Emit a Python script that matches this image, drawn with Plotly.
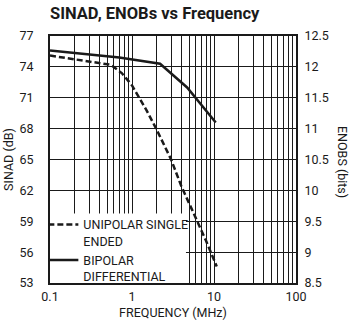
import plotly.graph_objects as go

# Frequency sweep (MHz) and measured SINAD (dB)
freq_unipolar = [0.1, 0.55, 0.75, 1.0, 1.5, 2.0, 3.0, 4.0, 5.0, 6.0, 8.0, 10.8]
sinad_unipolar = [75.1, 74.2, 73.4, 72.2, 69.8, 67.9, 65.0, 62.4, 60.7, 59.3, 57.1, 54.6]

freq_bipolar = [0.1, 0.7, 2.2, 4.7, 10.5]
sinad_bipolar = [75.6, 74.9, 74.3, 72.0, 68.6]

x_tickvals = [0.1, 0.2, 0.3, 0.4, 0.5, 0.6, 0.7, 0.8, 0.9,
              1, 2, 3, 4, 5, 6, 7, 8, 9,
              10, 20, 30, 40, 50, 60, 70, 80, 90, 100]
x_ticktext = ["0.1"] + [""] * 8 + ["1"] + [""] * 8 + ["10"] + [""] * 8 + ["100"]
sinad_ticks = [53, 56, 59, 62, 65, 68, 71, 74, 77]
enob_ticks = [8.5, 9, 9.5, 10, 10.5, 11, 11.5, 12, 12.5]
enob_labels = ["8.5", "9", "9.5", "10", "10.5", "11", "11.5", "12", "12.5"]

FONT = "Roboto, Liberation Sans, sans-serif"
INK = "#1a1a1a"

fig = go.Figure()
fig.add_trace(go.Scatter(
    x=freq_unipolar, y=sinad_unipolar, mode="lines",
    name="UNIPOLAR SINGLE<br>ENDED",
    line=dict(color=INK, width=2.5, dash="6px,3px"),
))
fig.add_trace(go.Scatter(
    x=freq_bipolar, y=sinad_bipolar, mode="lines",
    name="BIPOLAR<br>DIFFERENTIAL",
    line=dict(color=INK, width=2.5),
))
# secondary axis carrying the ENOB scale
fig.add_trace(go.Scatter(x=[0.1], y=[8.5], yaxis="y2", mode="markers",
                         marker=dict(opacity=0), showlegend=False, hoverinfo="skip"))

# blank area behind the legend, above the grid
fig.add_shape(type="rect", xref="x", yref="y", x0=0.1, x1=4.55, y0=53, y1=59.75,
              fillcolor="white", line=dict(width=0), layer="between")

fig.update_layout(
    width=355, height=326,
    margin=dict(l=50, r=59, t=36, b=43, autoexpand=False),
    paper_bgcolor="white", plot_bgcolor="white",
    font=dict(family=FONT, size=12.5, color=INK),
    title=dict(text="<b>SINAD, ENOBs vs Frequency</b>", x=50 / 355, xanchor="left",
               xref="container", y=1 - 13.5 / 326, yanchor="middle", yref="container",
               font=dict(family=FONT, size=16.5, color=INK)),
    showlegend=True,
    legend=dict(x=-0.027, y=-0.032, xanchor="left", yanchor="bottom", valign="top",
                bgcolor="rgba(0,0,0,0)", font=dict(family=FONT, size=12.5),
                tracegroupgap=4, itemwidth=30),
    xaxis=dict(type="log", range=[-1, 2], tickvals=x_tickvals, ticktext=x_ticktext,
               showgrid=True, gridcolor=INK, gridwidth=1, automargin=False,
               showline=True, linecolor=INK, linewidth=2, mirror=True,
               ticks="outside", ticklen=1, tickcolor="rgba(0,0,0,0)",
               title=dict(text="FREQUENCY (MHz)", standoff=5,
                          font=dict(family=FONT, size=12.5)),
               zeroline=False),
    yaxis=dict(range=[53, 77], tickvals=sinad_ticks, automargin=False,
               showgrid=True, gridcolor=INK, gridwidth=1,
               showline=True, linecolor=INK, linewidth=2, mirror=True,
               ticks="outside", ticklen=12, tickcolor="rgba(0,0,0,0)",
               title=dict(text="SINAD (dB)", standoff=3,
                          font=dict(family=FONT, size=12.5)),
               zeroline=False),
    yaxis2=dict(range=[8.5, 12.5], tickvals=enob_ticks, ticktext=enob_labels,
                overlaying="y", side="right", showgrid=False, showline=False,
                automargin=False,
                ticks="outside", ticklen=5, tickcolor="rgba(0,0,0,0)",
                zeroline=False),
)

# right-hand axis title, reading top to bottom
fig.add_annotation(text="ENOBS (bits)", xref="paper", yref="paper", x=1, y=0.49,
                   xshift=46, xanchor="center", yanchor="middle", textangle=90,
                   showarrow=False, font=dict(family=FONT, size=12.5))

fig.write_html("out.html")
